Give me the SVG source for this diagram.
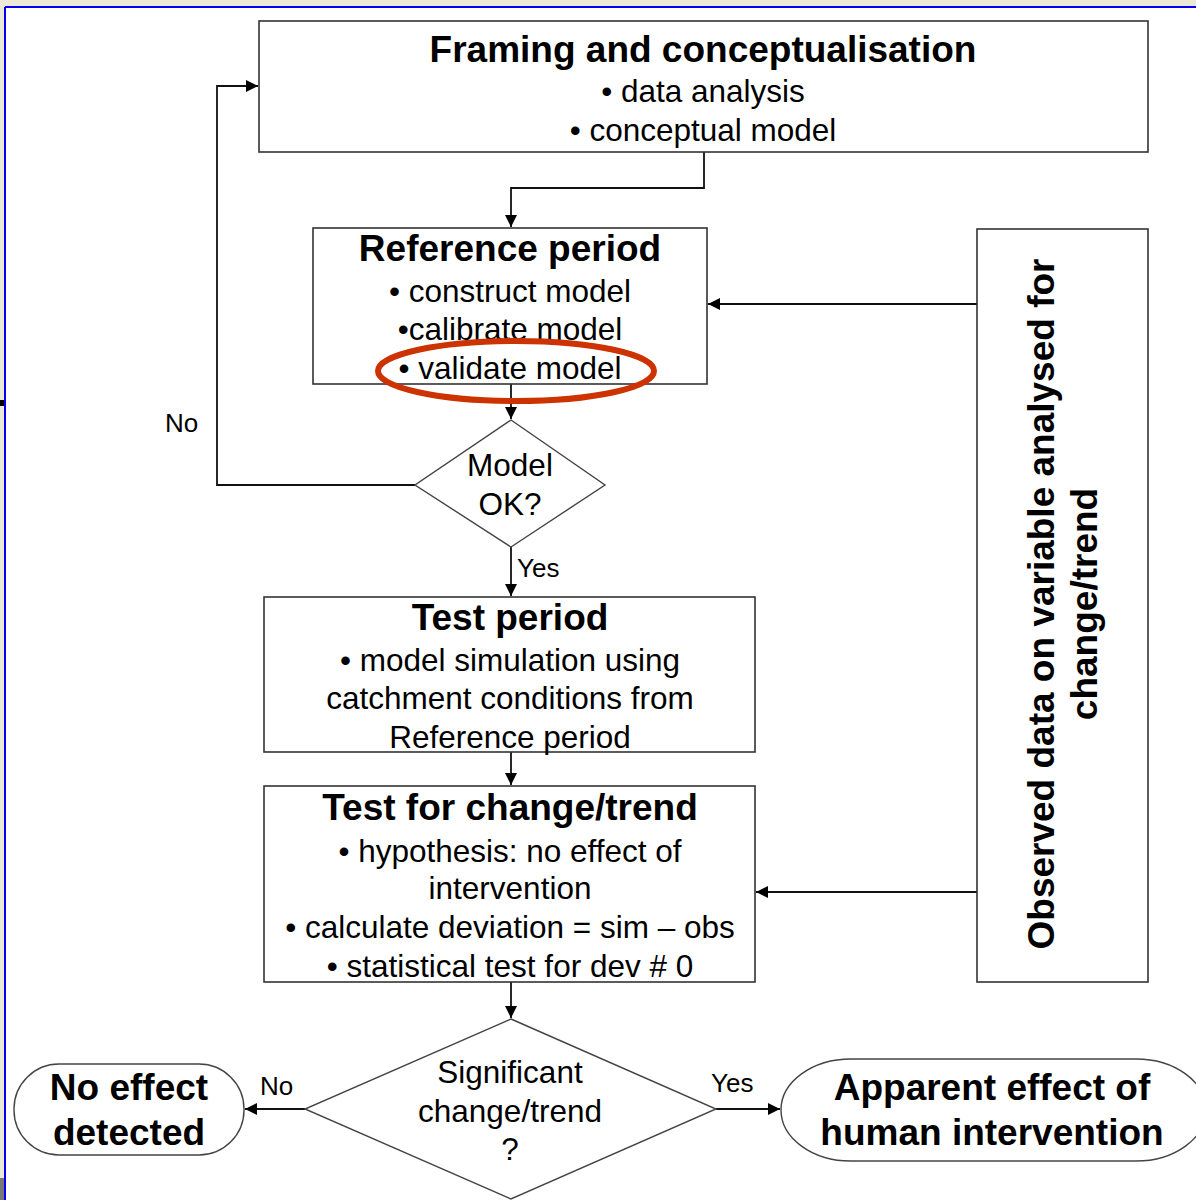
<svg xmlns="http://www.w3.org/2000/svg" width="1196" height="1200" viewBox="0 0 1196 1200">
<defs>
<marker id="ah" viewBox="0 0 10 10" refX="10" refY="5" markerWidth="12" markerHeight="12" markerUnits="userSpaceOnUse" orient="auto">
<path d="M0,0 L10,5 L0,10 z" fill="#000"/>
</marker>
<style>
.box{fill:#fff;stroke:#333;stroke-width:1.6}
.dia{fill:#fff;stroke:#444;stroke-width:1.4}
.con{fill:none;stroke:#111;stroke-width:1.8}
.t{font-family:"Liberation Sans",Arial,sans-serif;font-size:31.5px;fill:#000;text-anchor:middle}
.b{font-family:"Liberation Sans",Arial,sans-serif;font-size:37px;font-weight:bold;fill:#000;text-anchor:middle}
.lab{font-family:"Liberation Sans",Arial,sans-serif;font-size:26px;fill:#000}
</style>
</defs>
<rect x="0" y="0" width="1196" height="1200" fill="#ECE9D8"/>
<rect x="6" y="8" width="1190" height="1192" fill="#fff"/>
<line x1="5" y1="7" x2="1196" y2="7" stroke="#0000EE" stroke-width="2"/>
<line x1="5" y1="7" x2="5" y2="1200" stroke="#0000EE" stroke-width="2"/>
<rect x="0" y="1178" width="4" height="22" fill="#777"/>
<rect x="0" y="400" width="4" height="6" fill="#000"/>

<g id="connectors">
<path class="con" d="M704,152 V188 H511 V227" marker-end="url(#ah)"/>
<path class="con" d="M511,384 V419" marker-end="url(#ah)"/>
<path class="con" d="M415,485 H217 V86 H258" marker-end="url(#ah)"/>
<path class="con" d="M511,547 V596" marker-end="url(#ah)"/>
<path class="con" d="M511,752 V785" marker-end="url(#ah)"/>
<path class="con" d="M977,304 H708" marker-end="url(#ah)"/>
<path class="con" d="M977,892 H756" marker-end="url(#ah)"/>
<path class="con" d="M511,982 V1018" marker-end="url(#ah)"/>
<path class="con" d="M305,1109 H245" marker-end="url(#ah)"/>
<path class="con" d="M716,1109 H780" marker-end="url(#ah)"/>
<text class="lab" x="165" y="432">No</text>
<text class="lab" x="517" y="577">Yes</text>
<text class="lab" x="260" y="1095">No</text>
<text class="lab" x="711" y="1092">Yes</text>
</g>

<g id="framing">
<rect class="box" x="259" y="21" width="889" height="131"/>
<text class="b" x="703" y="62">Framing and conceptualisation</text>
<text class="t" x="703" y="102">• data analysis</text>
<text class="t" x="703" y="141">• conceptual model</text>
</g>

<g id="reference">
<rect class="box" x="313" y="228" width="394" height="156"/>
<text class="b" x="510" y="261">Reference period</text>
<text class="t" x="510" y="302">• construct model</text>
<text class="t" x="510" y="340">•calibrate model</text>
<text class="t" x="510" y="379">• validate model</text>
<ellipse cx="516" cy="371" rx="138" ry="30" fill="none" stroke="#CC3300" stroke-width="6"/>
</g>

<g id="model-ok">
<polygon class="dia" points="511,420 605,485 511,547 415,485"/>
<text class="t" x="510" y="476">Model</text>
<text class="t" x="510" y="515">OK?</text>
</g>

<g id="test-period">
<rect class="box" x="264" y="597" width="491" height="155"/>
<text class="b" x="510" y="630">Test period</text>
<text class="t" x="510" y="671">• model simulation using</text>
<text class="t" x="510" y="709">catchment conditions from</text>
<text class="t" x="510" y="748">Reference period</text>
</g>

<g id="test-change">
<rect class="box" x="264" y="786" width="491" height="196"/>
<text class="b" x="510" y="820">Test for change/trend</text>
<text class="t" x="510" y="862">• hypothesis: no effect of</text>
<text class="t" x="510" y="899">intervention</text>
<text class="t" x="510" y="938">• calculate deviation = sim – obs</text>
<text class="t" x="510" y="977">• statistical test for dev # 0</text>
</g>

<g id="observed">
<rect class="box" x="977" y="229" width="171" height="753"/>
<text class="b" transform="translate(1054,604) rotate(-90)" x="0" y="0">Observed data on variable analysed for</text>
<text class="b" transform="translate(1097,604) rotate(-90)" x="0" y="0">change/trend</text>
</g>

<g id="significant">
<polygon class="dia" points="511,1019 716,1109 511,1199 305,1109"/>
<text class="t" x="510" y="1083">Significant</text>
<text class="t" x="510" y="1122">change/trend</text>
<text class="t" x="510" y="1160">?</text>
</g>

<g id="no-effect">
<rect class="dia" x="14" y="1064" width="230" height="91" rx="45" ry="45"/>
<text class="b" x="129" y="1100">No effect</text>
<text class="b" x="129" y="1145">detected</text>
</g>

<g id="apparent">
<rect class="dia" x="781" y="1059" width="425" height="102" rx="70" ry="51"/>
<text class="b" x="992" y="1100">Apparent effect of</text>
<text class="b" x="992" y="1145">human intervention</text>
</g>
</svg>
